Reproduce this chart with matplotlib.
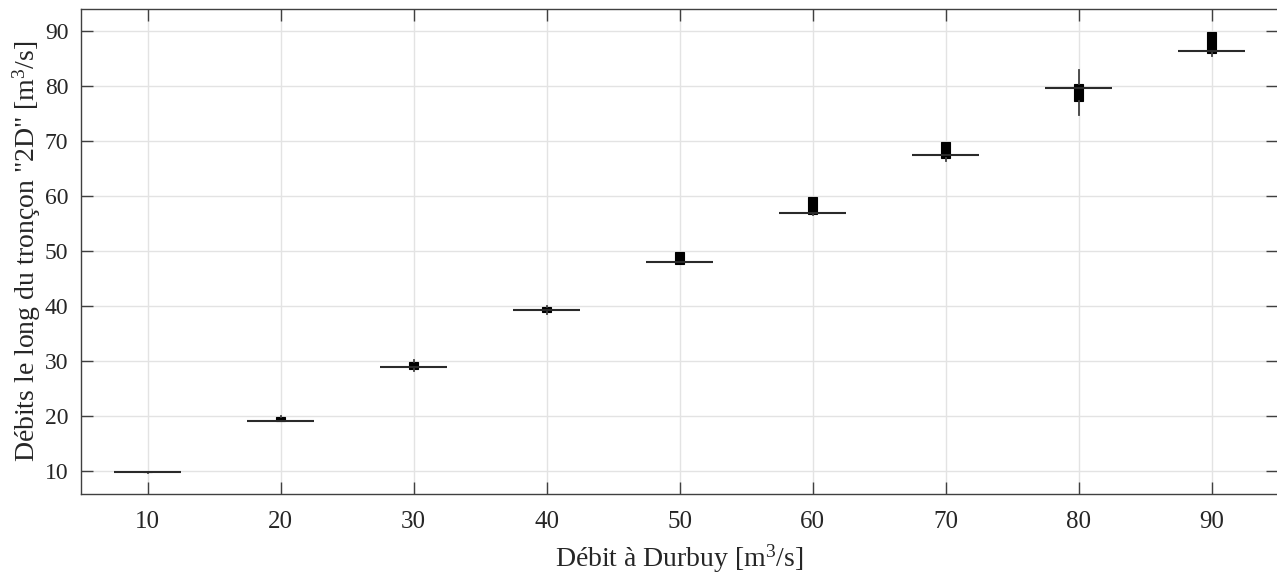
import matplotlib
matplotlib.use("Agg")
import matplotlib.pyplot as plt

plt.rcParams['font.family'] = ['Liberation Serif', 'DejaVu Serif']
plt.rcParams['mathtext.fontset'] = 'custom'
plt.rcParams['mathtext.rm'] = 'Liberation Serif'
plt.rcParams['mathtext.it'] = 'Liberation Serif:italic'

# Data
categories = ['10', '20', '30', '40', '50', '60', '70', '80', '90']
medians = [9.78, 19.15, 28.96, 39.27, 47.9, 56.85, 67.45, 79.64, 86.4]
q1 = [9.72, 19.15, 28.55, 38.85, 47.65, 56.7, 66.96, 77.35, 85.98]
q3 = [9.85, 19.85, 29.85, 39.75, 49.85, 59.75, 69.85, 80.3, 89.85]
whislo = [9.7, 19.05, 28.25, 38.55, 47.55, 56.6, 66.3, 74.8, 85.4]
whishi = [9.88, 19.95, 30.25, 40.05, 49.9, 59.8, 69.9, 82.9, 89.9]

fig = plt.figure(figsize=(12.77, 5.76), dpi=100)
ax = fig.add_axes([81/1277, 1-494/576, 1197/1277, 485/576])

stats = []
for lab, m, a, b, lo, hi in zip(categories, medians, q1, q3, whislo, whishi):
    stats.append(dict(label=lab, med=m, q1=a, q3=b, whislo=lo, whishi=hi, fliers=[]))

positions = list(range(1, len(categories) + 1))
bp = ax.bxp(stats, positions=positions, widths=0.07, patch_artist=True,
            showcaps=False, showfliers=False,
            boxprops=dict(facecolor='black', edgecolor='black', linewidth=0.8),
            whiskerprops=dict(color='#404040', linewidth=1.3),
            medianprops=dict(linewidth=0))
# wide median lines
ax.hlines(medians, [p - 0.25 for p in positions], [p + 0.25 for p in positions],
          colors='#2a2a2a', linewidth=1.5, zorder=3)

ax.set_xlim(0.5, 9.5)
ax.set_ylim(5.8, 94)
ax.set_xticks(positions)
ax.set_xticklabels(categories)
ax.set_yticks(range(10, 100, 10))

ax.grid(True, color='#e3e3e3', linewidth=1.0)
ax.set_axisbelow(True)
for s in ax.spines.values():
    s.set_color('#404040')
    s.set_linewidth(1.0)
ax.tick_params(direction='in', length=8.5, width=1, colors='#404040',
               labelsize=18, top=True, right=True)
ax.tick_params(axis='x', pad=12)
ax.tick_params(axis='y', pad=9, labelsize=17)
for t in ax.get_xticklabels() + ax.get_yticklabels():
    t.set_color('#262626')

ax.set_xlabel('Débit à Durbuy [m$^3$/s]', fontsize=20, color='#262626', labelpad=7)
ax.set_ylabel('Débits le long du tronçon "2D" [m$^3$/s]', fontsize=20, color='#262626', labelpad=1)

fig.savefig('out.png', dpi=100)
